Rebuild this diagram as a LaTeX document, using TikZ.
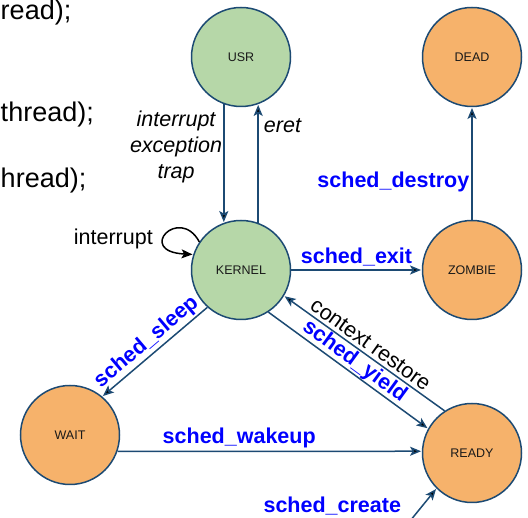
\documentclass[tikz,border=0pt]{standalone}
\usepackage{fontspec}
\setmainfont{Liberation Sans}
\usepackage{xcolor}
\usetikzlibrary{arrows.meta}
\definecolor{lineblue}{HTML}{1C4A73}
\definecolor{kgreen}{HTML}{B6D7A8}
\definecolor{torange}{HTML}{F6B26B}
\newcommand{\lblfont}{\fontsize{21.5}{26}\selectfont}

\begin{document}
\begin{tikzpicture}[->,>={Stealth[length=11pt,width=9pt,inset=2.5pt]},shorten >=0.7pt,%
        x=1pt,y=1pt,node distance=213pt,line width=1.5pt,
        inner sep=2.5pt,
        circ/.style={circle,draw=lineblue,minimum size=99pt,
          font=\fontsize{12.5}{15}\selectfont,text=black!90},
        kstate/.style={circ,fill=kgreen},
        tstate/.style={circ,fill=torange},
        call/.style={font=\lblfont\bfseries,text=blue},
        note/.style={font=\lblfont\itshape,text=black},
        code/.style={font=\fontsize{27}{32}\selectfont,anchor=base west,inner sep=0pt}]
      \useasboundingbox (0,0) rectangle (528,518);

      % left-hand code fragments
      \node[code] (c1) at (0,498) {read);};
      \node[code] (c2) at (0,396) {thread);};
      \node[code] (c3) at (0,330) {hread);};

      \node[kstate]   (USR)    at (241,461)                          {USR};
      \node[kstate]   (KERNEL) [below of=USR]                        {KERNEL};
      \node[tstate]   (ZOMBIE) [right of=KERNEL, node distance=231pt] {ZOMBIE};
      \node[tstate]   (DEAD)   [above of=ZOMBIE]                     {DEAD};
      \node[tstate]   (READY)  [below of=ZOMBIE, node distance=183pt] {READY};
      \node[tstate]   (WAIT)   at (70,83)                            {WAIT};
      \coordinate     (create) at (397,-19);

      \path[draw=lineblue]
      (USR.-110) edge node[note,pos=0.36,left,align=center,inner sep=1pt]
                      {interrupt\\exception\\trap} (KERNEL.110)

      (KERNEL.70) edge node[note,pos=0.82,right,inner sep=5pt] {eret} (USR.-70)
      (KERNEL) edge node[call,above,inner sep=3pt] {sched\_exit} (ZOMBIE)
      (KERNEL.-132) edge node[call,sloped,above,inner sep=2pt] {sched\_sleep} (WAIT.50)
      (KERNEL.-57) edge node[call,sloped,above,inner sep=0pt] {sched\_yield} (READY.151)

      (ZOMBIE) edge node[call,pos=0.34,left,inner sep=2pt] {sched\_destroy} (DEAD)

      (WAIT.-19) edge node[call,pos=0.4,above,inner sep=3pt] {sched\_wakeup} (READY.178)

      (READY.123) edge node[font=\lblfont,sloped,above,inner sep=3pt] {context restore} (KERNEL.-31)

      (create) edge node[call,pos=0.64,left=18pt] {sched\_create} (READY.-135);

      % self loop
      \draw[black] (KERNEL.146) .. controls +(-20,37) and +(-58,3) ..
        node[font=\lblfont,left=11pt,yshift=-6pt] {interrupt} (KERNEL.162);

    \end{tikzpicture}
\end{document}
